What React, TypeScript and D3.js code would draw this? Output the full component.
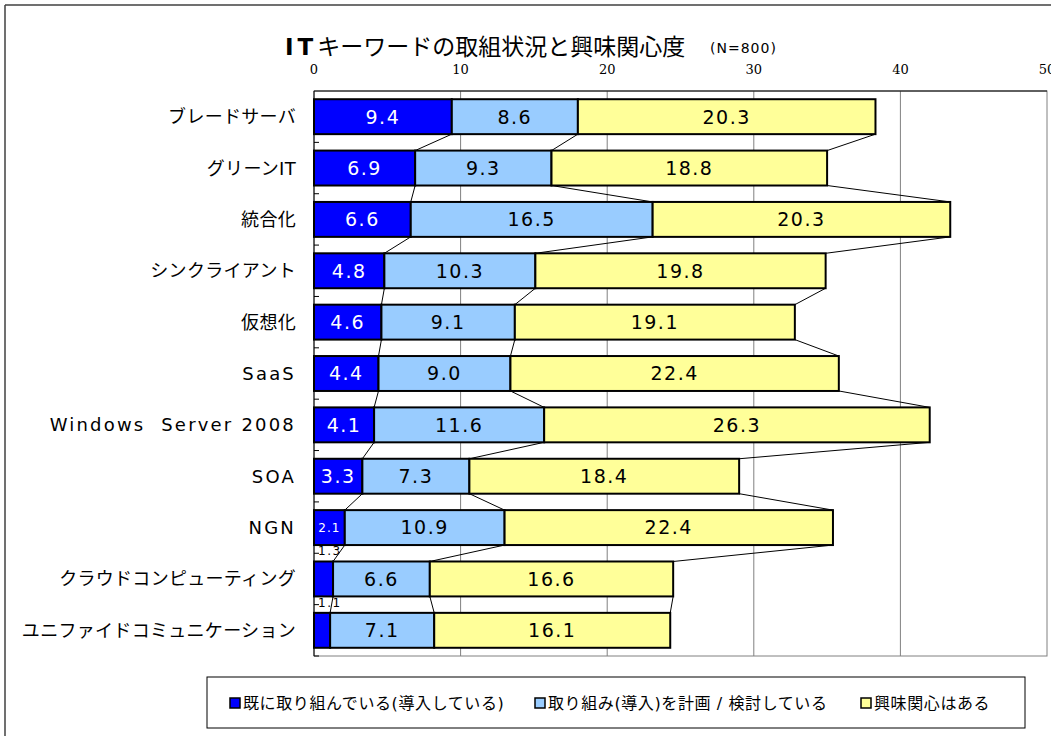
import * as React from 'react';
import * as d3 from 'd3';

const categories = [
  'ブレードサーバ',
  'グリーンIT',
  '統合化',
  'シンクライアント',
  '仮想化',
  'SaaS',
  'Windows\u00a0\u00a0Server 2008',
  'SOA',
  'NGN',
  'クラウドコンピューティング',
  'ユニファイドコミュニケーション',
];
const already = [9.4, 6.9, 6.6, 4.8, 4.6, 4.4, 4.1, 3.3, 2.1, 1.3, 1.1];
const planning = [8.6, 9.3, 16.5, 10.3, 9.1, 9.0, 11.6, 7.3, 10.9, 6.6, 7.1];
const interested = [20.3, 18.8, 20.3, 19.8, 19.1, 22.4, 26.3, 18.4, 22.4, 16.6, 16.1];
const seriesNames = [
  '既に取り組んでいる(導入している)',
  '取り組み(導入)を計画 / 検討している',
  '興味関心はある',
];
const colors = ['#0000ff', '#99ccff', '#ffff99'];
const ticks = [0, 10, 20, 30, 40, 50];

const jp = '"DejaVu Sans", "Noto Sans CJK JP", sans-serif';

export default function App() {
  const width = 1051, height = 736;
  const x = d3.scaleLinear().domain([0, 50]).range([314, 1047]);
  const y = d3.scaleBand<string>().domain(categories).range([91, 656])
    .paddingInner(0.32).paddingOuter(0.16);
  const bw = y.bandwidth();

  const rows = categories.map((c, i) => {
    const vals = [already[i], planning[i], interested[i]];
    let acc = 0;
    const segs = vals.map((v, k) => {
      const s = { k, v, x0: acc, x1: acc + v };
      acc += v;
      return s;
    });
    return { c, segs };
  });

  const legendX = [230, 535, 861];
  const isLatin = (s: string) => /^[\x00-\x7f\u00a0]+$/.test(s);

  return (
    <svg width={width} height={height} style={{ position: 'absolute', left: 0, top: 0, background: '#fff' }}>
      <line x1={5} y1={5} x2={width} y2={5} stroke="#404040" strokeWidth={1.5} />
      <line x1={5} y1={5} x2={5} y2={height} stroke="#404040" strokeWidth={1.5} />

      <text x={285} y={55} fontFamily={jp} fontSize={23} fill="#000">
        <tspan fontWeight="bold" letterSpacing={4}>IT</tspan>
        <tspan>キーワードの取組状況と興味関心度</tspan>
      </text>
      <text x={710} y={53} fontFamily={jp} fontSize={14} letterSpacing={1} fill="#000">(N=800)</text>

      {/* plot area */}
      <rect x={x(0)} y={91} width={x(50) - x(0)} height={565} fill="#fff" stroke="#808080" strokeWidth={1} />
      {ticks.slice(1, -1).map(t => (
        <line key={t} x1={x(t)} x2={x(t)} y1={91} y2={656} stroke="#808080" strokeWidth={1} />
      ))}
      <line x1={x(0)} x2={x(50)} y1={91} y2={91} stroke="#000" strokeWidth={1} />
      <line x1={x(0)} x2={x(0)} y1={91} y2={656} stroke="#000" strokeWidth={1} />
      {ticks.map(t => (
        <text key={t} x={x(t)} y={74} textAnchor="middle" fontFamily='"DejaVu Serif", serif' fontSize={13} fill="#000">{t}</text>
      ))}
      {d3.range(1, categories.length + 1).map(i => {
        const yy = 91 + (565 / categories.length) * i;
        return <line key={i} x1={x(0)} x2={x(0) + 5} y1={yy} y2={yy} stroke="#000" strokeWidth={1} />;
      })}

      {/* connectors */}
      {rows.slice(0, -1).map((r, i) => r.segs.map(s => (
        <line key={`c${i}-${s.k}`}
          x1={x(s.x1)} y1={(y(r.c) as number) + bw}
          x2={x(rows[i + 1].segs[s.k].x1)} y2={y(rows[i + 1].c) as number}
          stroke="#000" strokeWidth={1} />
      )))}

      {/* bars */}
      {rows.map(r => r.segs.map(s => (
        <rect key={`${r.c}-${s.k}`} x={x(s.x0)} y={y(r.c)} width={x(s.x1) - x(s.x0)} height={bw}
          fill={colors[s.k]} stroke="#000" strokeWidth={2} />
      )))}

      {/* value labels */}
      {rows.map(r => r.segs.map(s => {
        const yc = (y(r.c) as number) + bw / 2;
        if (s.v < 2) {
          return (
            <text key={`l${r.c}-${s.k}`} x={x(0) + 4} y={(y(r.c) as number) - 6} fontFamily={jp} fontSize={12}
              letterSpacing={1.5} fill="#000">{s.v.toFixed(1)}</text>
          );
        }
        const small = s.v < 3;
        return (
          <text key={`l${r.c}-${s.k}`} x={x((s.x0 + s.x1) / 2)} y={yc} dy="0.36em" textAnchor="middle"
            fontFamily={jp} fontSize={small ? 12 : 19} letterSpacing={small ? 1 : 1.5}
            fill={s.k === 0 ? '#fff' : '#000'}>{s.v.toFixed(1)}</text>
        );
      }))}

      {/* category labels */}
      {categories.map(c => (
        <text key={c} x={296} y={(y(c) as number) + bw / 2} dy="0.36em" textAnchor="end"
          fontFamily={jp} fontSize={18} letterSpacing={isLatin(c) ? 2.2 : 0.3} fill="#000">{c}</text>
      ))}

      {/* legend */}
      <rect x={207} y={677} width={818} height={51} fill="#fff" stroke="#000" strokeWidth={1} />
      {seriesNames.map((n, i) => (
        <g key={n}>
          <rect x={legendX[i]} y={698} width={10} height={10} fill={colors[i]} stroke="#000" strokeWidth={1.5} />
          <text x={legendX[i] + 13} y={703} dy="0.36em" fontFamily={jp} fontSize={16} letterSpacing={0.6} fill="#000">{n}</text>
        </g>
      ))}
    </svg>
  );
}
